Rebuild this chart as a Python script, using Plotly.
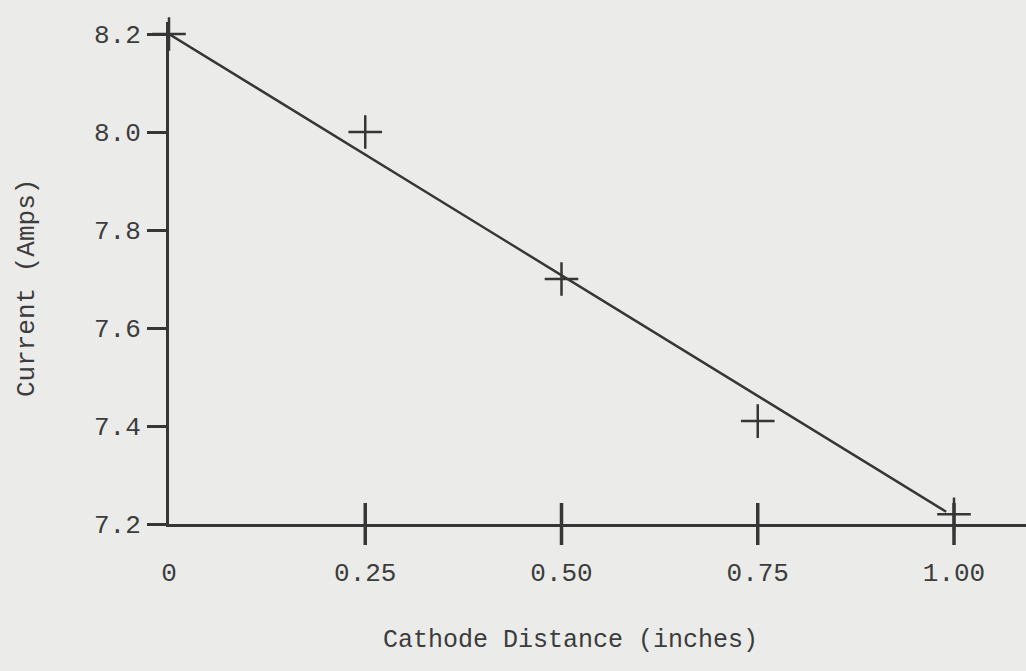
import plotly.graph_objects as go

# Data
distance = [0, 0.25, 0.50, 0.75, 1.00]
current = [8.2, 8.0, 7.7, 7.41, 7.22]
fit_x = [0, 0.99]
fit_y = [8.2, 7.225]

x_tickvals = [0, 0.25, 0.50, 0.75, 1.00]
x_ticktext = ["0", "0.25", "0.50", "0.75", "1.00"]
x_cross_ticks = [0.25, 0.50, 0.75, 1.00]
y_tickvals = [7.2, 7.4, 7.6, 7.8, 8.0, 8.2]
y_ticktext = ["7.2", "7.4", "7.6", "7.8", "8.0", "8.2"]

ink = "#363636"
paper = "#ebebe9"
text_col = "#3c3c3c"
font = "Liberation Mono, Courier New, monospace"

fig = go.Figure()

# Fitted straight line
fig.add_trace(go.Scatter(x=fit_x, y=fit_y, mode="lines",
                         line=dict(color=ink, width=2.5), hoverinfo="skip",
                         showlegend=False, cliponaxis=False))

# Crossing tick marks on the x axis
fig.add_trace(go.Scatter(x=x_cross_ticks, y=[7.2] * len(x_cross_ticks), mode="markers",
                         marker=dict(symbol="line-ns", size=30,
                                     line=dict(color=ink, width=3.5)),
                         hoverinfo="skip", showlegend=False, cliponaxis=False))

# Data points as crosses
fig.add_trace(go.Scatter(x=distance, y=current, mode="markers",
                         marker=dict(symbol="cross-thin", size=24,
                                     line=dict(color=ink, width=2.5)),
                         showlegend=False, cliponaxis=False))

fig.update_layout(
    width=1026, height=671,
    margin=dict(l=169, r=0, t=22, b=147),
    paper_bgcolor=paper, plot_bgcolor=paper,
    font=dict(family=font, size=26, color=text_col),
    xaxis=dict(range=[0, 857 / 785], tickvals=x_tickvals, ticktext=x_ticktext,
               showgrid=False, zeroline=False, showline=True,
               linecolor=ink, linewidth=3, ticks="", ticklabelstandoff=23,
               fixedrange=True),
    yaxis=dict(range=[7.2, 7.2 + 502 / 490], tickvals=y_tickvals, ticktext=y_ticktext,
               showgrid=False, zeroline=False, showline=True,
               linecolor=ink, linewidth=3, ticks="outside", ticklen=19,
               tickwidth=2.5, tickcolor=ink, ticklabelstandoff=1,
               fixedrange=True),
    annotations=[
        dict(text="Cathode Distance (inches)", xref="paper", yref="paper",
             x=0.468, y=0, xanchor="center", yanchor="middle", yshift=-116,
             showarrow=False, font=dict(family=font, size=25, color=text_col)),
        dict(text="Current (Amps)", xref="paper", yref="paper",
             x=0, y=0.47, xanchor="center", yanchor="middle", xshift=-142,
             textangle=-90, showarrow=False,
             font=dict(family=font, size=26, color=text_col)),
    ],
)

fig.write_html("out.html")
